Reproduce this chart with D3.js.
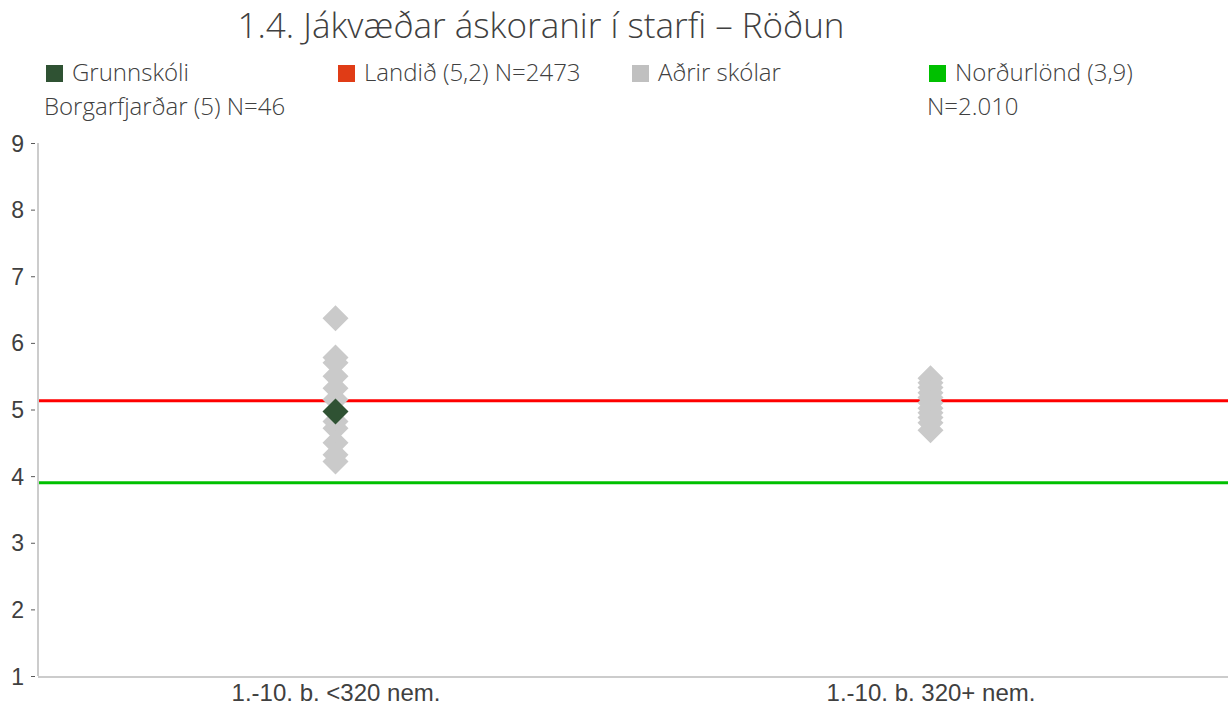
<!DOCTYPE html>
<html>
<head>
<meta charset="utf-8">
<script src="https://cdn.jsdelivr.net/npm/d3@7"></script>
<style>
  body { margin: 0; background: #fff; }
  svg { display: block; }
</style>
</head>
<body>
<div id="chart"></div>
<script>
'use strict';

var title = '1.4. Jákvæðar áskoranir í starfi – Röðun';
var categories = ['1.-10. b. <320 nem.', '1.-10. b. 320+ nem.'];
var yTicks = [1, 2, 3, 4, 5, 6, 7, 8, 9];

// other schools, per category
var otherSmall = [6.37, 5.78, 5.7, 5.5, 5.32, 5.15, 4.82, 4.72, 4.5, 4.32, 4.22];
var otherLarge = [5.47, 5.4, 5.33, 5.25, 5.18, 5.1, 5.02, 4.95, 4.88, 4.8, 4.69];
var schoolValue = 4.97;   // Grunnskóli Borgarfjarðar
var schoolCategory = categories[0];
var landidValue = 5.13;
var nordValue = 3.9;

var legendItems = [
  { lines: ['Grunnskóli', 'Borgarfjarðar (5) N=46'], color: '#2f5233' },
  { lines: ['Landið (5,2) N=2473'], color: '#e03c16' },
  { lines: ['Aðrir skólar'], color: '#c0c0c0' },
  { lines: ['Norðurlönd (3,9)', 'N=2.010'], color: '#00c000' }
];

var width = 1228, height = 708;
var margin = { top: 143, right: 0, bottom: 31, left: 38 };
var textFont = '"Open Sans", Lato, sans-serif';

var svg = d3.select('#chart').append('svg')
  .attr('width', width)
  .attr('height', height);

svg.append('text')
  .text(title)
  .attr('x', 541)
  .attr('y', 38)
  .attr('text-anchor', 'middle')
  .attr('font-family', textFont)
  .attr('font-weight', 300)
  .attr('font-size', 35)
  .attr('fill', '#404040');

// legend
var legendX = [46, 338, 632, 929];
var legend = svg.selectAll('g.legend')
  .data(legendItems).enter()
  .append('g')
  .attr('class', 'legend')
  .attr('transform', function (d, i) { return 'translate(' + legendX[i] + ',0)'; });

legend.append('rect')
  .attr('x', 0)
  .attr('y', 65)
  .attr('width', 17)
  .attr('height', 17)
  .attr('fill', function (d) { return d.color; });

legend.each(function (d) {
  var g = d3.select(this);
  d.lines.forEach(function (line, j) {
    g.append('text')
      .text(line)
      .attr('x', j === 0 ? 26 : -2)
      .attr('y', 81 + j * 34)
      .attr('font-family', textFont)
      .attr('font-weight', 300)
      .attr('font-size', 24)
      .attr('fill', '#404040');
  });
});

var x = d3.scalePoint()
  .domain(categories)
  .range([margin.left, width - margin.right])
  .padding(0.5);

var y = d3.scaleLinear()
  .domain([1, 9])
  .range([height - margin.bottom - 1, margin.top]);

// y axis
var yAxis = svg.append('g')
  .attr('transform', 'translate(' + margin.left + ',0)')
  .call(d3.axisLeft(y).tickValues(yTicks).tickSize(4).tickPadding(10).tickFormat(d3.format('d')));
yAxis.select('.domain').attr('stroke', '#cccccc').attr('stroke-width', 2)
  .attr('d', 'M0,' + y(9) + 'V' + y(1));
yAxis.selectAll('.tick line').attr('stroke', '#595959').attr('transform', 'translate(-3,0)');
yAxis.selectAll('.tick text')
  .attr('font-family', '"Liberation Sans", Arial, sans-serif')
  .attr('font-size', 23)
  .attr('fill', '#404040')
  .attr('dy', '0.35em');

// x axis
var xAxis = svg.append('g')
  .attr('transform', 'translate(0,' + (y(1) + 1) + ')')
  .call(d3.axisBottom(x).tickSize(0).tickPadding(7));
xAxis.select('.domain').attr('stroke', '#cccccc').attr('stroke-width', 2)
  .attr('d', 'M' + margin.left + ',0H' + width);
xAxis.selectAll('.tick text')
  .attr('font-family', '"Liberation Sans", Arial, sans-serif')
  .attr('font-size', 24)
  .attr('fill', '#404040');

// reference lines
svg.append('line')
  .attr('x1', margin.left + 1).attr('x2', width)
  .attr('y1', y(landidValue)).attr('y2', y(landidValue))
  .attr('stroke', '#ff0000').attr('stroke-width', 3);

svg.append('line')
  .attr('x1', margin.left + 1).attr('x2', width)
  .attr('y1', y(nordValue)).attr('y2', y(nordValue))
  .attr('stroke', '#00c000').attr('stroke-width', 3);

// diamonds
var half = 13;
function diamond(cx, cy) {
  return 'M' + cx + ',' + (cy - half) + 'L' + (cx + half) + ',' + cy +
    'L' + cx + ',' + (cy + half) + 'L' + (cx - half) + ',' + cy + 'Z';
}

var others = otherSmall.map(function (v) { return { cat: categories[0], value: v }; })
  .concat(otherLarge.map(function (v) { return { cat: categories[1], value: v }; }));

svg.append('g').selectAll('path')
  .data(others).enter()
  .append('path')
  .attr('d', function (d) { return diamond(x(d.cat), y(d.value)); })
  .attr('fill', '#cacaca');

svg.append('path')
  .attr('d', diamond(x(schoolCategory), y(schoolValue)))
  .attr('fill', '#2f5233');
</script>
</body>
</html>
